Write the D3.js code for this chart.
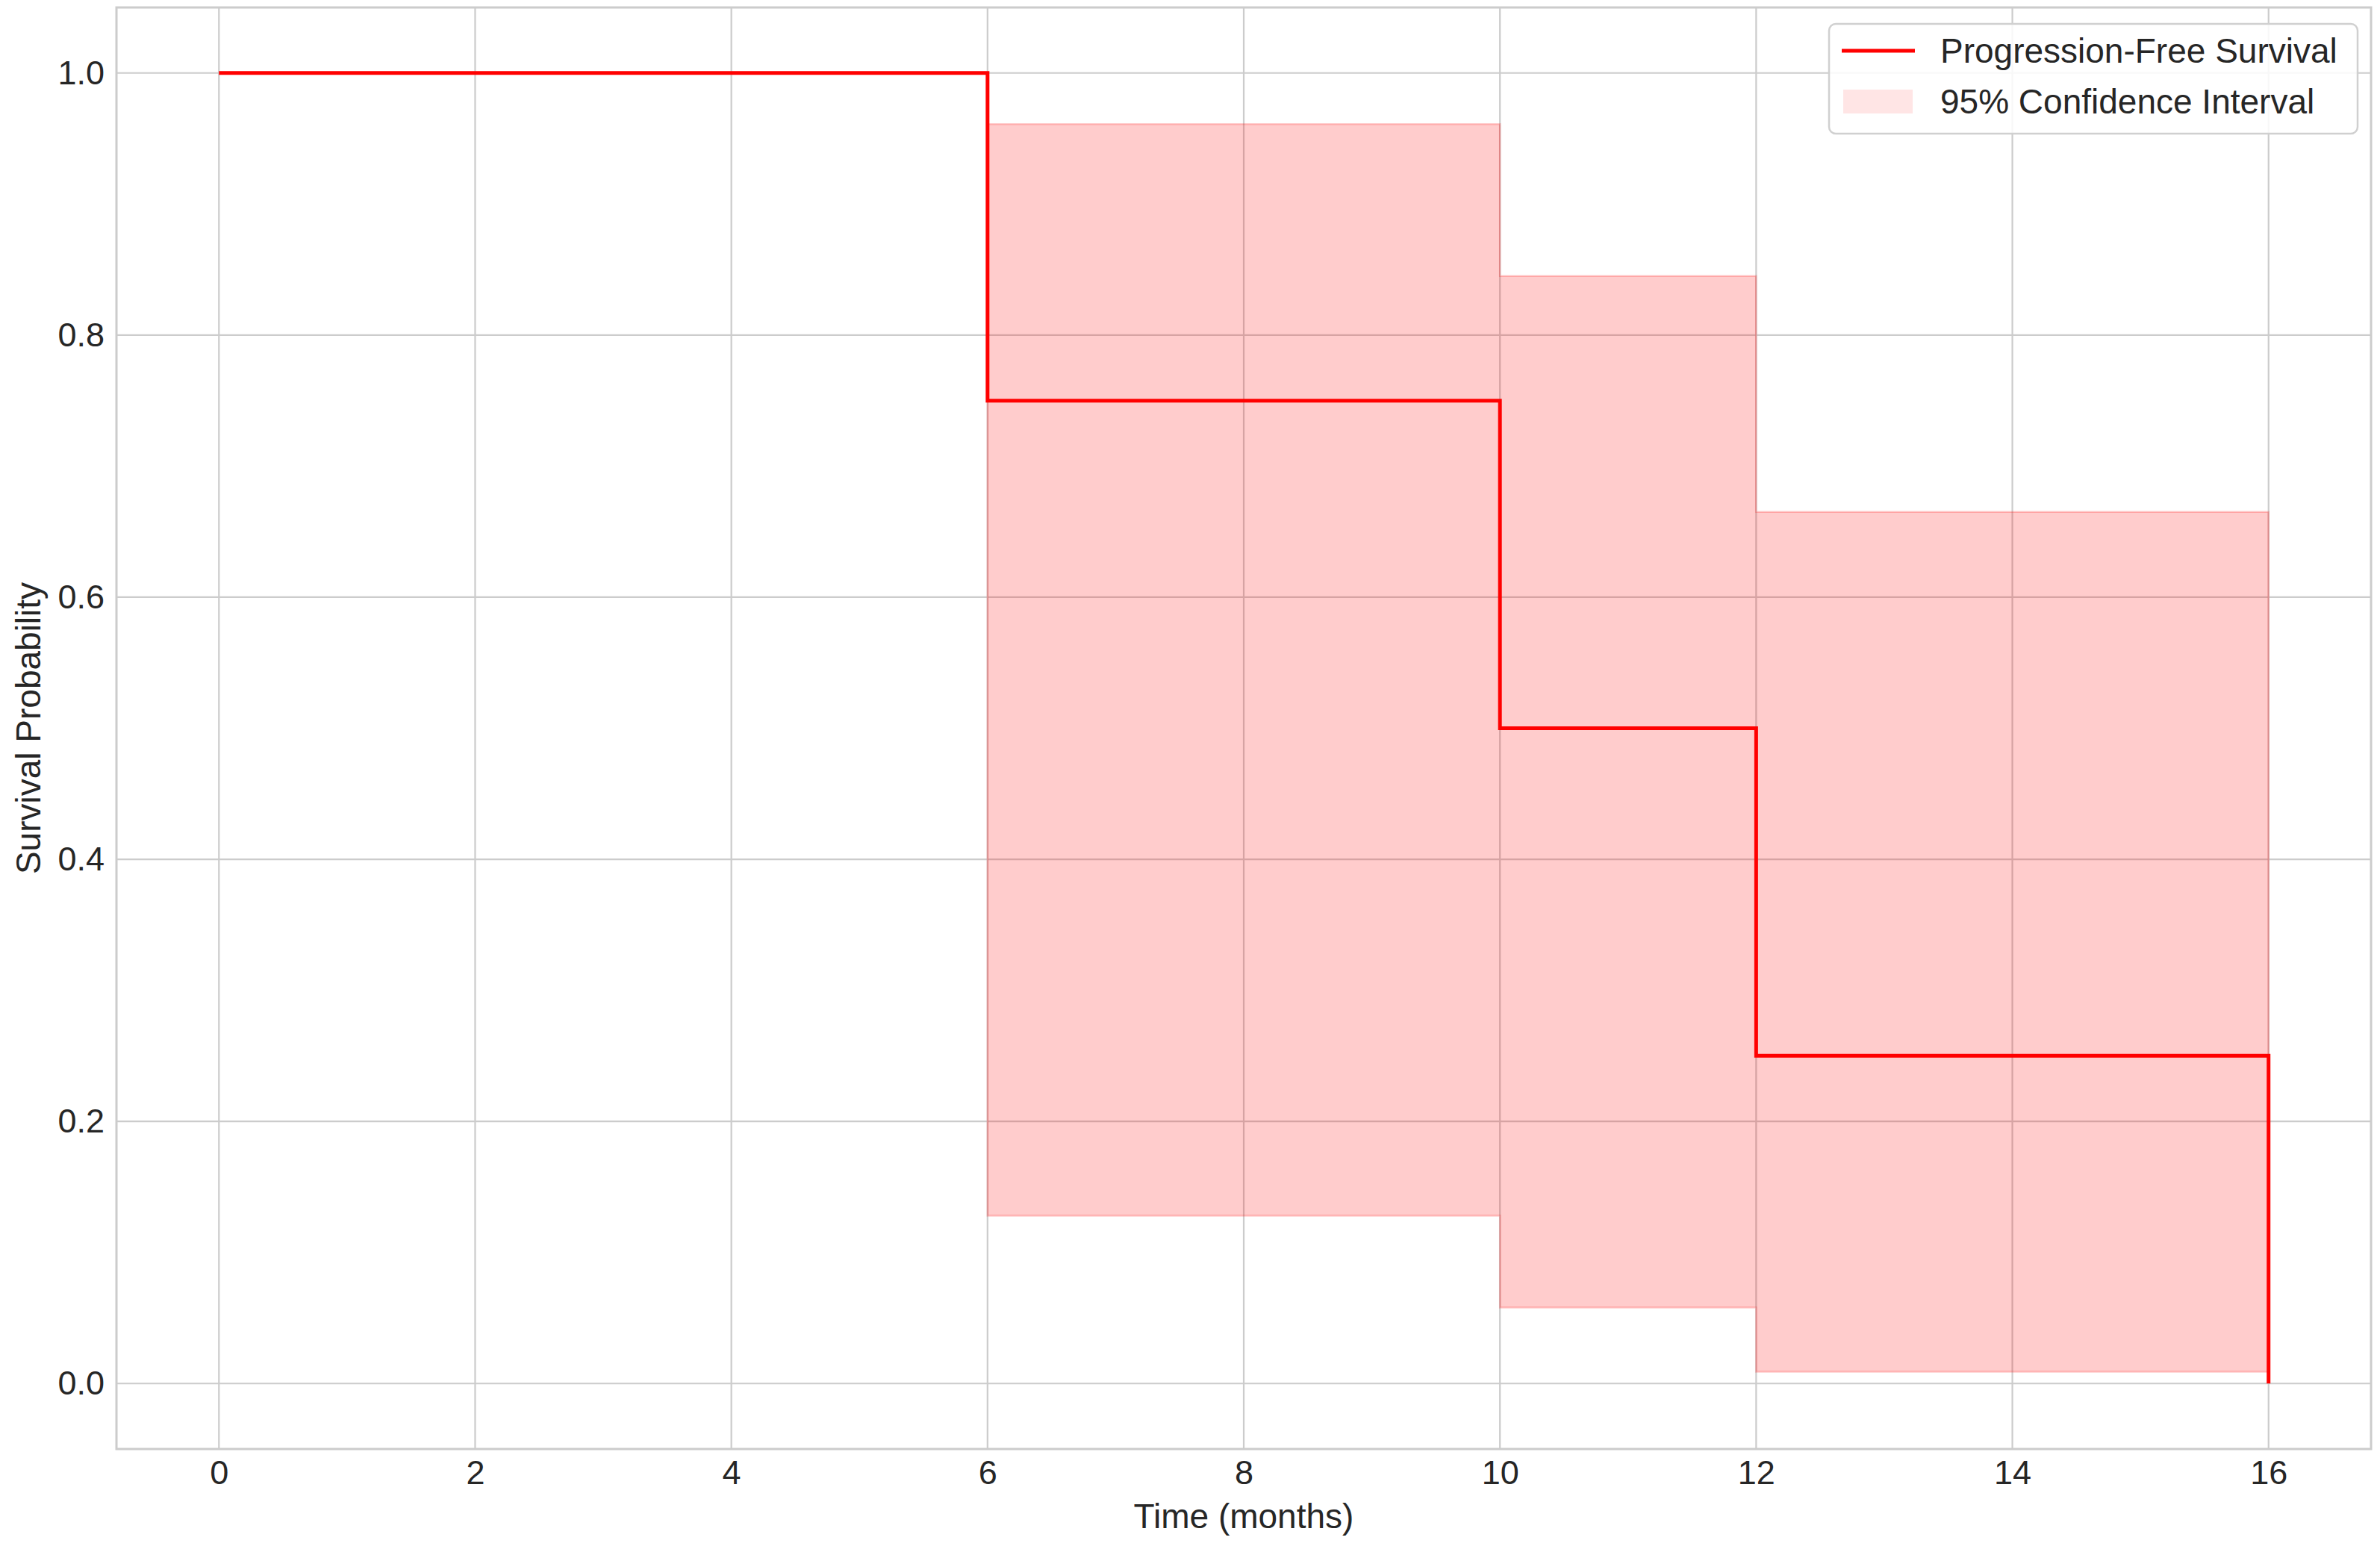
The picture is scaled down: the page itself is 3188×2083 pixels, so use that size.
<!DOCTYPE html>
<html>
<head>
<meta charset="utf-8">
<script src="https://cdn.jsdelivr.net/npm/d3@7"></script>
<style>
  html, body { margin: 0; padding: 0; background: #ffffff; }
  svg { display: block; }
  text { font-family: "Liberation Sans", Arial, sans-serif; fill: #262626; }
</style>
</head>
<body>
<script>
// ---- data ----
const kmTimes = [0, 6, 10, 12, 16];
const kmSurvival = [1.0, 0.75, 0.5, 0.25, 0.0];
const ciTimes = [6, 10, 12, 16];
const ciUpper = [0.961, 0.845, 0.665, 0.665];
const ciLower = [0.128, 0.058, 0.009, 0.009];
const xTickValues = [0, 2, 4, 6, 8, 10, 12, 14, 16];
const yTickValues = [0.0, 0.2, 0.4, 0.6, 0.8, 1.0];
const legendLabels = ["Progression-Free Survival", "95% Confidence Interval"];
const xLabel = "Time (months)";
const yLabel = "Survival Probability";

// ---- layout ----
const W = 3188, H = 2083;
const plot = { left: 156, right: 3176, top: 10, bottom: 1941 };

const svg = d3.select("body").append("svg").attr("width", W).attr("height", H);
svg.append("rect").attr("width", W).attr("height", H).attr("fill", "#ffffff");

const x = d3.scaleLinear().domain([-0.8, 16.8]).range([plot.left, plot.right]);
const y = d3.scaleLinear().domain([-0.05, 1.05]).range([plot.bottom, plot.top]);

// grid
const grid = svg.append("g");
grid.selectAll("line.gx").data(xTickValues).enter().append("line")
  .attr("x1", d => x(d)).attr("x2", d => x(d))
  .attr("y1", plot.top).attr("y2", plot.bottom)
  .attr("stroke", "#cccccc").attr("stroke-width", 2.2);
grid.selectAll("line.gy").data(yTickValues).enter().append("line")
  .attr("x1", plot.left).attr("x2", plot.right)
  .attr("y1", d => y(d)).attr("y2", d => y(d))
  .attr("stroke", "#cccccc").attr("stroke-width", 2.2);

// CI band
const ciData = ciTimes.map((t, i) => ({ t, lo: ciLower[i], hi: ciUpper[i] }));
const area = d3.area()
  .x(d => x(d.t)).y0(d => y(d.lo)).y1(d => y(d.hi))
  .curve(d3.curveStepAfter);
svg.append("path").datum(ciData)
  .attr("d", area)
  .attr("fill", "#ff0000").attr("fill-opacity", 0.2)
  .attr("stroke", "#ff0000").attr("stroke-opacity", 0.2).attr("stroke-width", 2.5);

// KM line
const kmData = kmTimes.map((t, i) => ({ t, s: kmSurvival[i] }));
const line = d3.line().x(d => x(d.t)).y(d => y(d.s)).curve(d3.curveStepAfter);
svg.append("path").datum(kmData)
  .attr("d", line)
  .attr("fill", "none").attr("stroke", "#ff0000").attr("stroke-width", 5)
  .attr("stroke-linejoin", "miter");

// frame
svg.append("rect")
  .attr("x", plot.left).attr("y", plot.top)
  .attr("width", plot.right - plot.left).attr("height", plot.bottom - plot.top)
  .attr("fill", "none").attr("stroke", "#cccccc").attr("stroke-width", 3);

// axes
const xAxis = d3.axisBottom(x).tickValues(xTickValues).tickSize(0).tickPadding(15).tickFormat(d3.format("d"));
const gx = svg.append("g").attr("transform", `translate(0,${plot.bottom})`).call(xAxis);
gx.select(".domain").remove();
gx.selectAll("text").attr("font-size", 45).attr("fill", "#262626")
  .style("font-family", '"Liberation Sans", Arial, sans-serif');

const yAxis = d3.axisLeft(y).tickValues(yTickValues).tickSize(0).tickPadding(16).tickFormat(d3.format(".1f"));
const gy = svg.append("g").attr("transform", `translate(${plot.left},0)`).call(yAxis);
gy.select(".domain").remove();
gy.selectAll("text").attr("font-size", 45).attr("fill", "#262626")
  .style("font-family", '"Liberation Sans", Arial, sans-serif');

// axis labels
svg.append("text")
  .attr("x", (plot.left + plot.right) / 2).attr("y", 2031)
  .attr("text-anchor", "middle").attr("dominant-baseline", "central")
  .attr("font-size", 46).text(xLabel);
svg.append("text")
  .attr("transform", `translate(38,${(plot.top + plot.bottom) / 2}) rotate(-90)`)
  .attr("text-anchor", "middle").attr("dominant-baseline", "central")
  .attr("font-size", 46).text(yLabel);

// legend
const lg = svg.append("g");
lg.append("rect")
  .attr("x", 2450).attr("y", 32).attr("width", 708).attr("height", 147)
  .attr("rx", 9).attr("ry", 9)
  .attr("fill", "#ffffff").attr("fill-opacity", 0.85)
  .attr("stroke", "#d0d0d0").attr("stroke-width", 2.5);
lg.append("line")
  .attr("x1", 2467).attr("x2", 2565).attr("y1", 68).attr("y2", 68)
  .attr("stroke", "#ff0000").attr("stroke-width", 5);
lg.append("rect")
  .attr("x", 2469).attr("y", 120).attr("width", 93).attr("height", 32)
  .attr("fill", "#ff0000").attr("fill-opacity", 0.1);
lg.selectAll("text.lt").data(legendLabels).enter().append("text")
  .attr("x", 2599).attr("y", (d, i) => 68 + i * 68)
  .attr("dominant-baseline", "central")
  .attr("font-size", 46).text(d => d);
</script>
</body>
</html>
